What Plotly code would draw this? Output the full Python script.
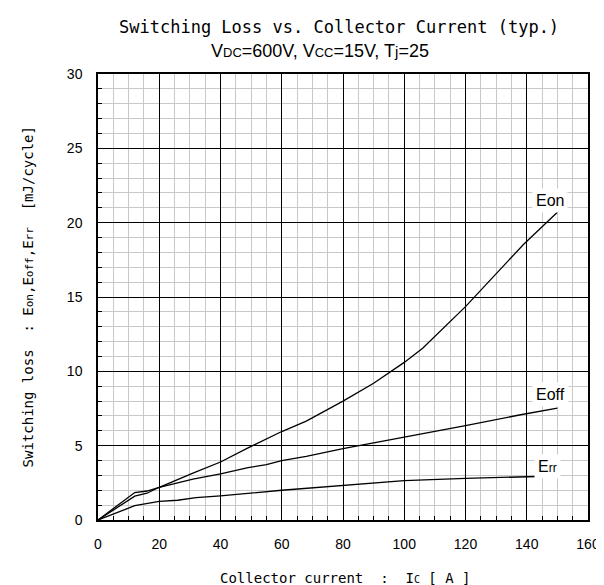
import plotly.graph_objects as go

# Data
eon_x = [0, 6, 12, 16, 20, 31, 40, 49, 60, 68, 80, 90, 100, 106, 120, 139, 150]
eon_y = [0, 0.8, 1.6, 1.8, 2.2, 3.15, 3.9, 4.85, 5.95, 6.65, 8.0, 9.2, 10.6, 11.55, 14.35, 18.55, 20.7]

eoff_x = [0, 6, 12, 16, 20, 31, 40, 49, 55, 60, 68, 80, 100, 120, 138, 150]
eoff_y = [0, 0.9, 1.85, 1.95, 2.2, 2.75, 3.1, 3.52, 3.72, 4.0, 4.28, 4.8, 5.55, 6.35, 7.08, 7.53]

err_x = [0, 12, 20, 26, 32, 40, 60, 80, 100, 120, 138, 150]
err_y = [0, 0.96, 1.25, 1.33, 1.5, 1.62, 2.0, 2.33, 2.65, 2.8, 2.9, 2.96]

x_ticks = [0, 20, 40, 60, 80, 100, 120, 140, 160]
y_ticks = [0, 5, 10, 15, 20, 25, 30]

curve_labels = ["Eon", "Eoff", "E<span style='font-size:12px'>rr</span>"]
label_x = [147.7, 147.7, 146.9]
label_y = [21.48, 8.43, 3.61]

mono = "DejaVu Sans Mono"
sans = "Liberation Sans"

fig = go.Figure()
for xs, ys in [(eon_x, eon_y), (eoff_x, eoff_y), (err_x, err_y)]:
    fig.add_trace(go.Scatter(x=xs, y=ys, mode="lines",
                             line=dict(color="black", width=1.3),
                             showlegend=False, hoverinfo="skip"))

for t, lx, ly in zip(curve_labels, label_x, label_y):
    fig.add_annotation(x=lx, y=ly, text=t, showarrow=False,
                       font=dict(family=sans, size=16, color="black"),
                       bgcolor="white", borderpad=3)

# Titles
fig.add_annotation(xref="paper", yref="paper", x=0.492, y=1.105,
                   xanchor="center", yanchor="middle",
                   text="Switching Loss vs. Collector Current (typ.)",
                   showarrow=False, font=dict(family=mono, size=17, color="black"))
fig.add_annotation(xref="paper", yref="paper", x=0.2265, y=1.052,
                   xanchor="left", yanchor="middle",
                   text="V<span style='font-size:13px'>DC</span>=600V, V<span style='font-size:13px'>CC</span>=15V, T<span style='font-size:15px'>j</span>=25",
                   showarrow=False, font=dict(family=sans, size=18, color="black"))

fig.add_annotation(xref="paper", yref="paper", x=-0.142, y=0.5,
                   xanchor="center", yanchor="middle",
                   text="Switching loss  : E<span style='font-size:11px'>on</span>,E<span style='font-size:11px'>off</span>,E<span style='font-size:11px'>rr</span>  [mJ/cycle]",
                   textangle=-90, showarrow=False,
                   font=dict(family=mono, size=14, color="black"))

fig.add_annotation(xref="paper", yref="paper", x=0.504, y=-0.130,
                   xanchor="center", yanchor="middle",
                   text="Collector current  :  I<span style='font-size:10px'>C</span> [ A ]",
                   showarrow=False, font=dict(family=mono, size=14, color="black"))

fig.update_layout(
    width=604, height=585,
    margin=dict(l=90, r=15, t=66, b=73),
    paper_bgcolor="white", plot_bgcolor="white",
)

fig.update_xaxes(range=[0, 160], tickvals=x_ticks, ticktext=[str(v) for v in x_ticks],
                 showgrid=True, gridcolor="black", gridwidth=1,
                 zeroline=False, showline=True, linecolor="black", linewidth=1.5, mirror=True,
                 ticks="inside", ticklen=5, tickcolor="black", ticklabelstandoff=10,
                 tickfont=dict(family=sans, size=14, color="black"),
                 minor=dict(dtick=5, tick0=0, showgrid=True, gridcolor="#c8c8c8", gridwidth=1,
                            ticks="inside", ticklen=4, tickcolor="black"))
fig.update_yaxes(range=[0, 30], tickvals=y_ticks, ticktext=[str(v) for v in y_ticks],
                 showgrid=True, gridcolor="black", gridwidth=1,
                 zeroline=False, showline=True, linecolor="black", linewidth=1.5, mirror=True,
                 ticks="inside", ticklen=5, tickcolor="black", ticklabelstandoff=11,
                 tickfont=dict(family=sans, size=14, color="black"),
                 minor=dict(dtick=1, tick0=0, showgrid=True, gridcolor="#c8c8c8", gridwidth=1,
                            ticks="inside", ticklen=4, tickcolor="black"))

fig.write_html("out.html")
